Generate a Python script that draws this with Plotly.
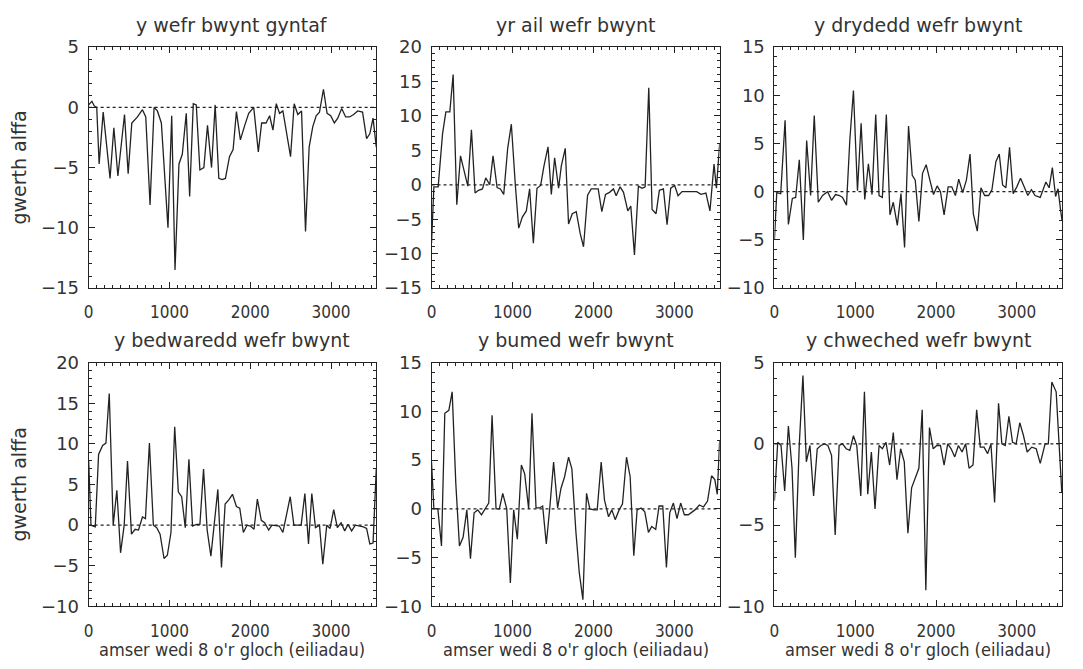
import plotly.graph_objects as go

# ---------------- data ----------------
titles = ["y wefr bwynt gyntaf", "yr ail wefr bwynt", "y drydedd wefr bwynt",
          "y bedwaredd wefr bwynt", "y bumed wefr bwynt", "y chweched wefr bwynt"]
x_title = "amser wedi 8 o'r gloch (eiliadau)"
y_title = "gwerth alffa"
x_ticks = [0, 1000, 2000, 3000]

t1 = [0, 40, 70, 100, 130, 180, 265, 312, 362, 444, 489, 534, 604, 666, 707, 760, 810, 851, 900, 982,
      1028, 1069, 1118, 1159, 1208, 1250, 1295, 1332, 1377, 1426, 1471, 1521, 1566, 1611, 1652, 1693,
      1743, 1788, 1829, 1878, 1932, 1981, 2043, 2100, 2141, 2195, 2240, 2281, 2322, 2363, 2404, 2454,
      2499, 2544, 2589, 2635, 2684, 2729, 2774, 2816, 2857, 2906, 2951, 2996, 3041, 3083, 3132, 3181,
      3230, 3280, 3330, 3390, 3440, 3480, 3520, 3560]
a1 = [0.2, 0.5, 0.1, 0.0, -4.7, -0.4, -5.9, -1.7, -5.7, -0.6, -5.5, -1.3, -0.8, -0.2, -0.8, -8.1, 0.0,
      -0.3, -1.3, -10.0, -0.7, -13.5, -4.7, -3.9, -0.5, -7.4, 0.3, 0.2, -5.2, -5.0, -1.5, -5.0, 0.2,
      -5.9, -6.0, -5.9, -4.1, -3.5, -0.35, -2.7, -1.5, -0.5, 0.0, -3.7, -1.3, -1.3, -0.7, -1.9, 0.3,
      -0.5, -0.3, -2.5, -4.1, 0.3, -0.6, -0.3, -10.3, -3.3, -1.6, -0.7, -0.4, 1.5, -0.5, -0.7, -1.3,
      -0.9, -0.1, -0.8, -0.8, -0.6, -0.3, -0.4, -2.6, -2.2, -0.9, -3.3]

t2 = [0, 29, 82, 136, 177, 226, 267, 312, 358, 403, 448, 493, 538, 580, 629, 670, 719, 760, 810, 851,
      892, 941, 986, 1036, 1077, 1122, 1171, 1212, 1258, 1303, 1348, 1389, 1439, 1480, 1521, 1570,
      1603, 1652, 1693, 1739, 1788, 1837, 1878, 1928, 1973, 2059, 2104, 2150, 2199, 2248, 2281, 2330,
      2372, 2425, 2462, 2507, 2556, 2602, 2639, 2684, 2725, 2774, 2815, 2865, 2910, 2955, 3004, 3046,
      3095, 3185, 3276, 3329, 3390, 3440, 3490, 3520, 3560]
a2 = [-8.5, -0.3, -0.3, 7.4, 10.6, 10.6, 16.0, -2.9, 4.2, 2.0, -0.2, 8.0, -1.2, -0.8, -0.6, 1.0, 0.0,
      4.2, -0.4, -0.6, -1.4, 5.3, 8.8, -0.1, -6.3, -4.7, -3.8, -0.6, -8.5, -0.5, -0.1, 2.7, 5.5, -1.4,
      3.9, -0.5, 2.7, 5.3, -5.7, -4.2, -3.9, -7.1, -9.0, -1.5, -0.6, -0.6, -3.9, -1.4, -1.1, -0.6,
      -1.6, -0.3, -1.1, -3.8, -3.1, -10.2, -0.2, -0.5, -0.3, 14.1, -3.6, -4.2, -0.8, -0.6, -5.8, -0.5,
      -0.1, -1.6, -1.0, -1.0, -1.0, -1.4, -1.2, -3.8, 3.0, -0.5, 6.0]

t3 = [0, 29, 78, 132, 173, 222, 263, 308, 358, 399, 448, 493, 543, 596, 658, 707, 756, 806, 843, 892,
      933, 978, 1028, 1073, 1118, 1163, 1208, 1254, 1295, 1336, 1385, 1430, 1471, 1521, 1566, 1611,
      1660, 1706, 1743, 1788, 1833, 1878, 1924, 1969, 2014, 2055, 2100, 2150, 2195, 2240, 2281, 2330,
      2376, 2421, 2462, 2511, 2556, 2602, 2651, 2692, 2741, 2783, 2824, 2865, 2910, 2955, 3000, 3046,
      3091, 3136, 3181, 3226, 3290, 3360, 3400, 3440, 3480, 3510, 3540, 3560]
a3 = [-5.0, -0.1, -0.2, 7.4, -3.4, -0.7, -0.6, 3.3, -5.0, 5.3, -0.4, 7.9, -1.1, -0.4, 0.0, -0.9, -0.3,
      -0.4, -0.6, -1.4, 5.3, 10.5, 0.1, 7.1, -0.8, 2.9, -0.3, 8.0, -0.4, -0.6, 8.0, -2.4, -1.1, -3.5,
      -0.2, -5.8, 6.8, 1.7, 1.2, -3.1, 1.9, 2.8, 1.2, -0.3, 0.6, 0.0, -2.4, 0.5, 0.5, -0.4, 1.3, -0.1,
      1.2, 3.9, -2.3, -4.1, 0.4, -0.4, -0.4, 0.2, 3.1, 3.9, 0.7, 0.4, 4.6, -0.2, 0.5, 1.4, 0.5, -0.4,
      0.2, -0.4, -0.6, 1.0, 0.4, 2.5, -0.5, 0.3, -1.8, -3.0]

t4 = [0, 29, 82, 123, 173, 214, 255, 304, 349, 395, 440, 481, 530, 575, 617, 666, 703, 752, 801, 843,
      884, 933, 974, 1019, 1065, 1110, 1151, 1196, 1241, 1286, 1336, 1377, 1422, 1467, 1513, 1599,
      1644, 1689, 1734, 1780, 1829, 1870, 1915, 1960, 2002, 2047, 2088, 2137, 2178, 2228, 2269, 2318,
      2359, 2404, 2450, 2495, 2540, 2630, 2676, 2721, 2762, 2807, 2857, 2898, 2947, 2988, 3033, 3078,
      3124, 3169, 3210, 3255, 3300, 3350, 3400, 3440, 3480, 3520, 3560]
a4 = [8.0, 0.0, -0.2, 8.7, 9.8, 10.1, 16.2, 0.0, 4.3, -3.4, 0.0, 7.9, -1.1, -0.5, -0.6, 1.0, 0.8, 10.1,
      0.0, -0.3, -1.1, -4.1, -3.7, -0.9, 12.1, 4.1, 3.5, -0.3, 8.1, -0.1, 0.1, 0.1, 6.9, -0.6, -3.8,
      4.4, -5.2, 2.6, 3.1, 3.8, 2.3, 2.1, -0.9, 0.0, -0.1, -0.5, 3.2, 0.6, 0.3, -0.6, 0.0, -0.1, -0.1,
      -0.9, 1.5, 3.5, 0.0, 0.0, 3.9, -2.3, 3.9, -0.3, 0.0, -4.8, 0.0, -0.4, 1.9, -0.3, 0.3, -0.7, 0.1,
      -0.7, 0.0, -0.1, -0.2, -0.4, -2.3, -2.2, 7.0]

t5 = [0, 29, 78, 123, 164, 214, 255, 300, 345, 390, 436, 481, 526, 571, 617, 666, 707, 748, 797, 838,
      880, 929, 974, 1015, 1060, 1110, 1151, 1200, 1241, 1291, 1332, 1373, 1418, 1463, 1508, 1558,
      1599, 1644, 1693, 1734, 1784, 1825, 1870, 1915, 1956, 2006, 2047, 2096, 2137, 2187, 2228, 2269,
      2318, 2359, 2409, 2454, 2499, 2540, 2589, 2635, 2680, 2721, 2770, 2811, 2857, 2902, 2943, 2988,
      3033, 3078, 3124, 3173, 3255, 3309, 3360, 3410, 3460, 3500, 3530, 3560]
a5 = [4.8, 0.0, 0.0, -3.8, 9.8, 10.1, 12.0, 2.6, -3.8, -2.9, -0.1, -5.1, -0.4, -0.1, -0.6, 0.1, 0.6,
      9.6, 0.0, 0.0, 1.6, 0.0, -7.6, -0.1, -3.1, 4.5, 3.6, 0.0, 9.8, 0.1, 0.1, 0.3, -3.6, 0.3, 4.8,
      0.1, 2.1, 3.3, 5.3, 4.1, -2.4, -6.5, -9.3, 1.6, 0.0, -0.1, -0.1, 4.8, 0.9, -0.8, -0.1, -1.1,
      -0.1, 0.5, 5.3, 3.3, -4.8, -0.1, 0.1, -0.3, -2.4, -1.8, -2.1, 0.3, 0.3, -6.0, -0.4, 0.6, -1.0,
      0.6, -0.6, -0.6, -0.1, 0.4, 0.2, 0.8, 3.4, 3.0, 1.5, 7.0]

t6 = [0, 41, 82, 127, 173, 218, 259, 308, 353, 395, 440, 485, 530, 575, 621, 662, 707, 752, 801, 843,
      888, 933, 978, 1019, 1069, 1114, 1155, 1200, 1245, 1295, 1336, 1381, 1426, 1471, 1517, 1562,
      1607, 1652, 1698, 1788, 1829, 1874, 1919, 1965, 2010, 2055, 2100, 2145, 2187, 2232, 2277, 2322,
      2367, 2409, 2458, 2503, 2548, 2594, 2639, 2680, 2725, 2774, 2815, 2857, 2902, 2947, 2992, 3037,
      3083, 3128, 3185, 3240, 3290, 3350, 3390, 3433, 3487, 3557]
a6 = [-3.5, 0.1, -0.1, -2.9, 1.1, -1.5, -7.0, 0.0, 4.2, -1.1, -0.1, -3.2, -0.3, -0.1, 0.0, -0.1, -0.7,
      -5.6, -0.1, 0.0, -0.3, -0.4, 0.5, -0.1, -3.2, 3.2, -3.1, -0.5, -4.0, -0.1, -0.3, 0.1, -1.3, 0.7,
      -2.2, -0.3, -1.1, -5.5, -2.7, -1.5, 2.1, -9.0, 1.0, -0.3, -0.1, -0.1, -1.3, 0.0, -0.3, -0.8, -0.1,
      -0.5, 0.0, -1.5, -1.3, 2.1, -0.2, -0.2, -0.6, 0.0, -3.6, 2.5, 0.0, -0.1, 1.7, 0.1, 0.0, 1.3, 0.5,
      -0.5, -0.2, -0.3, -1.2, 0.0, 0.0, 3.8, 3.2, -3.0]

y_ranges = [[-15, 5], [-15, 20], [-10, 15], [-10, 20], [-10, 15], [-10, 5]]
x_range = [0, 3560]
series = [(t1, a1), (t2, a2), (t3, a3), (t4, a4), (t5, a5), (t6, a6)]

# ---------------- layout geometry (screen pixels) ----------------
OFF = 8                      # default page margin around the plot div
FW, FH = 1083 - 2 * OFF, 669 - 2 * OFF
cols = [(84, 373), (428.5, 718), (773, 1062)]
rows = [(37, 286), (363, 615)]


def px(X):
    return (X - OFF) / FW


def py(Y):
    return 1 - (Y - OFF) / FH


INK = "#222222"
TXT = "#333333"
FONT = "DejaVu Sans, Liberation Sans, sans-serif"
NARROW = "Liberation Sans Narrow, DejaVu Sans Condensed, Liberation Sans, sans-serif"

fig = go.Figure()
layout = dict(width=FW, height=FH, margin=dict(l=0, r=0, t=0, b=0),
              paper_bgcolor="white", plot_bgcolor="white", showlegend=False,
              annotations=[], shapes=[])

for i, (tx, ay) in enumerate(series):
    r, c = divmod(i, 3)
    n = "" if i == 0 else str(i + 1)
    xa, ya = "x" + n, "y" + n
    x0, x1 = cols[c]
    y0, y1 = rows[r]
    fig.add_trace(go.Scatter(x=tx, y=ay, mode="lines", xaxis=xa, yaxis=ya,
                             line=dict(color=INK, width=1.3), hoverinfo="skip"))
    layout["xaxis" + n] = dict(
        domain=[px(x0), px(x1)], anchor=ya, range=x_range, tickvals=x_ticks,
        ticks="inside", ticklen=6, tickwidth=1, tickcolor=INK,
        minor=dict(ticks="inside", ticklen=3, dtick=100, tick0=0, tickcolor=INK, showgrid=False),
        showline=True, linecolor=INK, linewidth=1, mirror="allticks",
        showgrid=False, zeroline=False, ticklabelstandoff=9,
        tickfont=dict(family=NARROW, size=17, color=TXT))
    lo, hi = y_ranges[i]
    layout["yaxis" + n] = dict(
        domain=[py(y1), py(y0)], anchor=xa, range=[lo, hi], tick0=0, dtick=5,
        ticks="inside", ticklen=6, tickwidth=1, tickcolor=INK,
        minor=dict(ticks="inside", ticklen=3, dtick=1, tickcolor=INK, showgrid=False),
        showline=True, linecolor=INK, linewidth=1, mirror="allticks",
        showgrid=False, zeroline=False, ticklabelstandoff=5,
        tickfont=dict(family=FONT, size=18, color=TXT))
    layout["shapes"].append(dict(type="line", xref=xa + " domain", yref=ya,
                                 x0=0, x1=1, y0=0, y1=0,
                                 line=dict(color=INK, width=1.2, dash="dot")))
    layout["annotations"].append(dict(
        text=titles[i], xref="paper", yref="paper", x=px((x0 + x1) / 2),
        y=py(y0 - 23), xanchor="center", yanchor="middle", showarrow=False,
        font=dict(family=FONT, size=19, color=TXT)))
    if r == 1:
        layout["annotations"].append(dict(
            text=x_title, xref="paper", yref="paper", x=px((x0 + x1) / 2),
            y=py(659), xanchor="center", yanchor="middle", showarrow=False,
            font=dict(family=NARROW, size=18, color=TXT)))
    if c == 0:
        layout["annotations"].append(dict(
            text=y_title, xref="paper", yref="paper", x=px(14),
            y=py((y0 + y1) / 2), xanchor="center", yanchor="middle",
            textangle=-90, showarrow=False,
            font=dict(family=FONT, size=19, color=TXT)))

fig.update_layout(**layout)
fig.write_html("out.html")
